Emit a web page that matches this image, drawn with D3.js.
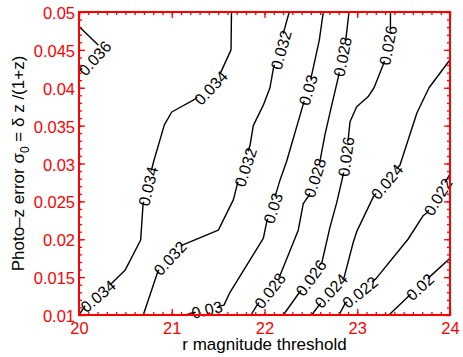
<!DOCTYPE html>
<html lang="en">
<head>
<meta charset="utf-8">
<title>Photo-z error contours</title>
<script src="https://d3js.org/d3.v7.min.js"></script>
<style>
  body { margin: 0; background: #fff; }
  svg { display: block; font-family: "Liberation Sans", Arial, Helvetica, sans-serif; }
  .cline { fill: none; stroke: #000; stroke-width: 1.4; stroke-linejoin: round; }
  .clabel { font-size: 16px; fill: #000; }
  .tick text { fill: #f00; font-size: 16.5px; font-family: "Liberation Sans", Arial, sans-serif; }
  .tick line { stroke: #f00; stroke-width: 1.3; }
</style>
</head>
<body>
<script>

// contour levels (labels as printed)
var levels = ["0.036", "0.034", "0.032", "0.03", "0.028", "0.026", "0.024", "0.022", "0.02"];

// contour lines, [r magnitude, sigma_0]
var c036 = [[20.0, 0.0481], [20.235, 0.0453], [20.0, 0.0421]];
var c034 = [[21.644, 0.05], [21.639, 0.0450], [21.531, 0.0421], [21.251, 0.0385], [21.0, 0.0368],
            [20.920, 0.0351], [20.801, 0.0301], [20.690, 0.0245], [20.665, 0.0199], [20.496, 0.0159],
            [20.353, 0.0142], [20.065, 0.0112], [20.0, 0.01]];
var c032 = [[22.267, 0.05], [22.221, 0.0480], [22.095, 0.0425], [22.059, 0.0400], [21.987, 0.0377],
            [21.879, 0.0350], [21.844, 0.0324], [21.714, 0.0276], [21.664, 0.0252], [21.502, 0.0212],
            [21.107, 0.0192], [20.852, 0.0158], [20.693, 0.01]];
var c030 = [[22.634, 0.05], [22.591, 0.0463], [22.509, 0.0417], [22.415, 0.0377], [22.239, 0.0303],
            [22.167, 0.0278], [22.113, 0.0256], [22.024, 0.0223], [21.987, 0.0201], [21.628, 0.0130],
            [21.563, 0.0113], [21.143, 0.01]];
var c028 = [[22.911, 0.05], [22.879, 0.0466], [22.796, 0.0414], [22.725, 0.0377], [22.652, 0.0338],
            [22.598, 0.0303], [22.480, 0.0258], [22.418, 0.0247], [22.364, 0.0212], [22.167, 0.0152],
            [21.919, 0.0113], [21.854, 0.01]];
var c026 = [[23.358, 0.05], [23.358, 0.0480], [23.288, 0.0433], [23.181, 0.0400], [23.116, 0.0388],
            [22.994, 0.0375], [22.922, 0.0355], [22.904, 0.0334], [22.850, 0.0286], [22.778, 0.0248],
            [22.706, 0.0216], [22.620, 0.0170], [22.372, 0.0129], [22.203, 0.01]];
var c024 = [[24.0, 0.0437], [23.774, 0.0400], [23.644, 0.0367], [23.461, 0.0298], [23.173, 0.0256],
            [22.994, 0.0210], [22.957, 0.0196], [22.857, 0.0149], [22.588, 0.0113], [22.509, 0.01]];
var c022 = [[24.0, 0.0286], [23.752, 0.0235], [23.709, 0.0231], [23.547, 0.0200], [23.202, 0.0148],
            [22.868, 0.0115], [22.803, 0.01]];
var c020 = [[24.0, 0.0175], [23.795, 0.0152], [23.547, 0.0124], [23.342, 0.01]];

var lines = [c036, c034, c032, c030, c028, c026, c024, c022, c020];

// where each contour carries its labels
var labelAt = [
  [[20.17, 0.0439]],
  [[21.423, 0.0400], [20.744, 0.0270], [20.205, 0.0125]],
  [[22.178, 0.0450], [21.795, 0.0295], [20.981, 0.0175]],
  [[22.469, 0.0397], [22.092, 0.0241], [21.380, 0.0107]],
  [[22.841, 0.0441], [22.544, 0.0281], [22.059, 0.0132]],
  [[23.332, 0.0456], [22.879, 0.0309], [22.501, 0.0149]],
  [[23.321, 0.0276], [22.717, 0.0132]],
  [[23.871, 0.0256], [23.030, 0.0130]],
  [[23.677, 0.0137]]
];

// axes
var xTicks = [20, 21, 22, 23, 24];
var yTicks = [0.01, 0.015, 0.02, 0.025, 0.03, 0.035, 0.04, 0.045, 0.05];
var yTickLabels = ["0.01", "0.015", "0.02", "0.025", "0.03", "0.035", "0.04", "0.045", "0.05"];

var w = 463, h = 357;
var mLeft = 79, mRight = 450, mTop = 12, mBottom = 315;

var x = d3.scaleLinear().domain([20, 24]).range([mLeft, mRight]);
var y = d3.scaleLinear().domain([0.01, 0.05]).range([mBottom, mTop]);

var xMinor = d3.range(0, 41).map(function(i) { return 20 + i * 0.1; });
var yMinor = d3.range(0, 41).map(function(i) { return 0.01 + i * 0.001; });

var svg = d3.select("body").append("svg")
  .attr("width", w)
  .attr("height", h);

var line = d3.line()
  .x(function(d) { return x(d[0]); })
  .y(function(d) { return y(d[1]); });

// contour lines
svg.selectAll(".cline")
  .data(lines)
  .enter().append("path")
  .attr("class", "cline")
  .attr("d", line);

// angle of the nearest segment, reading left to right
function labelAngle(pts, px, py) {
  var best = Infinity, ang = 0;
  for (var i = 0; i < pts.length - 1; i++) {
    var x1 = x(pts[i][0]), y1 = y(pts[i][1]);
    var x2 = x(pts[i + 1][0]), y2 = y(pts[i + 1][1]);
    var dx = x2 - x1, dy = y2 - y1;
    var t = ((px - x1) * dx + (py - y1) * dy) / (dx * dx + dy * dy);
    t = Math.max(0, Math.min(1, t));
    var ex = x1 + t * dx - px, ey = y1 + t * dy - py;
    var dd = ex * ex + ey * ey;
    if (dd < best) {
      best = dd;
      ang = Math.atan2(dy, dx) * 180 / Math.PI;
    }
  }
  if (ang > 90) ang -= 180;
  if (ang <= -90) ang += 180;
  return ang;
}

// contour labels
var labs = [];
labelAt.forEach(function(list, i) {
  list.forEach(function(p) {
    labs.push({ text: levels[i], pts: lines[i], m: p[0], s: p[1] });
  });
});

var lg = svg.selectAll(".clab")
  .data(labs)
  .enter().append("g")
  .attr("class", "clab")
  .attr("transform", function(d) {
    var px = x(d.m), py = y(d.s);
    return "translate(" + px + "," + py + ") rotate(" + labelAngle(d.pts, px, py) + ")";
  });

lg.append("rect").attr("fill", "#fff");
lg.append("text")
  .attr("class", "clabel")
  .attr("text-anchor", "middle")
  .attr("dy", "0.36em")
  .text(function(d) { return d.text; });

lg.each(function() {
  var g = d3.select(this);
  var len = g.select("text").node().getComputedTextLength();
  g.select("rect")
    .attr("x", -len / 2 + 4)
    .attr("y", -6)
    .attr("width", len - 8)
    .attr("height", 12);
});

// axes: ticks point inward on all four sides
function ticksOnly(axis, g) {
  g.call(axis);
  g.select(".domain").remove();
}

var gx = svg.append("g").attr("transform", "translate(0," + mBottom + ")");
ticksOnly(d3.axisBottom(x).tickValues(xMinor).tickSize(-3).tickFormat(""), gx.append("g"));
ticksOnly(d3.axisBottom(x).tickValues(xTicks).tickSize(-6).tickPadding(7).tickFormat(d3.format("d")), gx.append("g"));

var gxt = svg.append("g").attr("transform", "translate(0," + mTop + ")");
ticksOnly(d3.axisTop(x).tickValues(xMinor).tickSize(-3).tickFormat(""), gxt.append("g"));
ticksOnly(d3.axisTop(x).tickValues(xTicks).tickSize(-6).tickFormat(""), gxt.append("g"));

var gy = svg.append("g").attr("transform", "translate(" + mLeft + ",0)");
ticksOnly(d3.axisLeft(y).tickValues(yMinor).tickSize(-3).tickFormat(""), gy.append("g"));
ticksOnly(d3.axisLeft(y).tickValues(yTicks).tickSize(-6).tickPadding(4)
  .tickFormat(function(d, i) { return yTickLabels[i]; }), gy.append("g"));
gy.selectAll("text").attr("dy", "0.4em");

var gyr = svg.append("g").attr("transform", "translate(" + mRight + ",0)");
ticksOnly(d3.axisRight(y).tickValues(yMinor).tickSize(-3).tickFormat(""), gyr.append("g"));
ticksOnly(d3.axisRight(y).tickValues(yTicks).tickSize(-6).tickFormat(""), gyr.append("g"));

svg.selectAll(".tick text").attr("font-size", null);

// frame
svg.append("rect")
  .attr("x", mLeft)
  .attr("y", mTop)
  .attr("width", mRight - mLeft)
  .attr("height", mBottom - mTop)
  .attr("fill", "none")
  .attr("stroke", "#f00")
  .attr("stroke-width", 2);

// axis titles
svg.append("text")
  .attr("x", (mLeft + mRight) / 2)
  .attr("y", 350)
  .attr("text-anchor", "middle")
  .attr("font-size", "17px")
  .text("r magnitude threshold");

var yt = svg.append("text")
  .attr("transform", "translate(24," + (mTop + mBottom) / 2 + ") rotate(-90)")
  .attr("text-anchor", "middle")
  .attr("font-size", "17px");
yt.append("tspan").text("Photo\u2013z error \u03c3");
yt.append("tspan").attr("font-size", "12px").attr("dy", 5).text("0");
yt.append("tspan").attr("dy", -5).text(" = \u03b4 z /(1+z)");

</script>
</body>
</html>
